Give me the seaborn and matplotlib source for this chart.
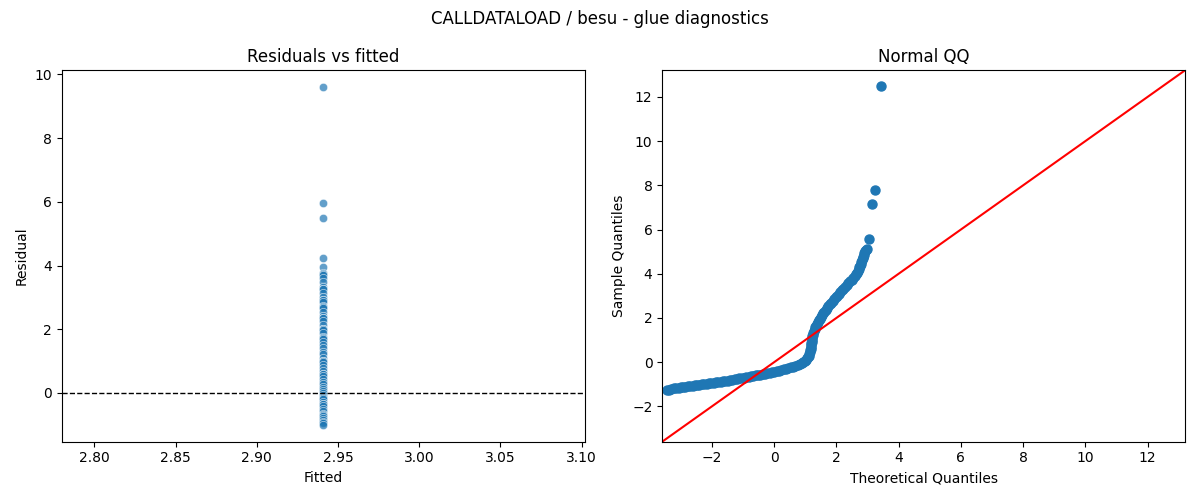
import matplotlib
matplotlib.use("Agg")
import matplotlib.pyplot as plt
import numpy as np
import pandas as pd
import seaborn as sns

# residuals from the intercept-only glue model (fitted value is constant)
fitted_value = 2.9405
residuals = [9.6, 5.97, 5.5, 4.25, 3.95, 3.78, 3.75, 3.72, 3.6, 3.48, 3.33, 3.27, 3.27,
             3.15, 3.0, 2.93, 2.93, 2.85, 2.72, 2.7, 2.66, 2.55, 2.42, 2.35, 2.35, 2.25,
             2.12, 2.0, 2.0, 1.98, 1.87, 1.75, 1.72, 1.7, 1.6, 1.5, 1.4, 1.3, 1.22, 1.1,
             1.0, 1.0, 0.97, 0.88, 0.78, 0.68, 0.6, 0.6, 0.52, 0.45, 0.36, 0.28, 0.2,
             0.12, 0.05, 0.0, -0.05, -0.12, -0.15, -0.2, -0.27, -0.35, -0.35, -0.42,
             -0.5, -0.58, -0.65, -0.7, -0.72, -0.78, -0.85, -0.9, -0.95, -1.0]

# normal QQ of standardised residuals
qq_theoretical = [-3.45, -3.38, -3.30, -3.22, -3.15, -3.07, -3.00, -2.92, -2.85, -2.77,
                  -2.70, -2.62, -2.55, -2.47, -2.40, -2.32, -2.25, -2.17, -2.10, -2.02,
                  -1.95, -1.87, -1.80, -1.72, -1.65, -1.57, -1.50, -1.42, -1.35, -1.27,
                  -1.20, -1.12, -1.05, -0.97, -0.90, -0.82, -0.75, -0.67, -0.60, -0.52,
                  -0.45, -0.37, -0.30, -0.22, -0.15, -0.07, 0.00, 0.08, 0.15, 0.23,
                  0.30, 0.38, 0.45, 0.53, 0.60, 0.68, 0.75, 0.82, 0.88, 0.94,
                  0.99, 1.03, 1.06, 1.09, 1.11, 1.13, 1.15, 1.16, 1.17, 1.18,
                  1.19, 1.19, 1.20, 1.21, 1.21, 1.22, 1.24, 1.26, 1.28, 1.30,
                  1.32, 1.35, 1.38, 1.41, 1.44, 1.47, 1.50, 1.54, 1.57, 1.61,
                  1.65, 1.69, 1.74, 1.78, 1.83, 1.88, 1.92, 1.97, 2.02, 2.07,
                  2.12, 2.17, 2.22, 2.27, 2.33, 2.38, 2.44, 2.49, 2.54, 2.59,
                  2.63, 2.67, 2.70, 2.72, 2.74, 2.76, 2.78, 2.80, 2.82, 2.84,
                  2.86, 2.88, 2.90, 2.92, 2.95, 2.98, 3.04, 3.14, 3.24, 3.44]
qq_sample = [-1.27, -1.24, -1.21, -1.19, -1.17, -1.16, -1.14, -1.12, -1.11, -1.09,
             -1.08, -1.06, -1.05, -1.03, -1.02, -1.00, -0.99, -0.97, -0.96, -0.94,
             -0.93, -0.91, -0.90, -0.88, -0.87, -0.85, -0.84, -0.82, -0.80, -0.78,
             -0.76, -0.74, -0.72, -0.70, -0.68, -0.66, -0.64, -0.62, -0.60, -0.58,
             -0.56, -0.54, -0.52, -0.49, -0.47, -0.45, -0.43, -0.40, -0.38, -0.35,
             -0.33, -0.30, -0.27, -0.24, -0.20, -0.16, -0.12, -0.08, -0.04, 0.01,
             0.06, 0.11, 0.17, 0.23, 0.30, 0.37, 0.45, 0.53, 0.61, 0.69,
             0.77, 0.85, 0.93, 1.01, 1.09, 1.17, 1.25, 1.33, 1.41, 1.49,
             1.57, 1.65, 1.73, 1.81, 1.89, 1.97, 2.05, 2.13, 2.21, 2.29,
             2.37, 2.45, 2.53, 2.61, 2.69, 2.77, 2.85, 2.93, 3.01, 3.09,
             3.17, 3.25, 3.33, 3.41, 3.49, 3.57, 3.65, 3.73, 3.81, 3.89,
             3.97, 4.05, 4.13, 4.21, 4.29, 4.37, 4.45, 4.53, 4.61, 4.69,
             4.77, 4.85, 4.93, 5.01, 5.09, 5.14, 5.56, 7.14, 7.77, 12.47]

qq_limits = [-3.6, 13.2]

resid_df = pd.DataFrame({"fitted": [fitted_value] * len(residuals), "residual": residuals})
qq_df = pd.DataFrame({"theoretical": qq_theoretical, "sample": qq_sample})

fig, (ax1, ax2) = plt.subplots(1, 2, figsize=(12, 5))

sns.scatterplot(data=resid_df, x="fitted", y="residual", alpha=0.7, ax=ax1)
ax1.axhline(0, color="black", linestyle="--", linewidth=1)
ax1.set_xlim(2.78, 3.102)
ax1.set_title("Residuals vs fitted")
ax1.set_xlabel("Fitted")
ax1.set_ylabel("Residual")

ax2.plot(qq_df["theoretical"], qq_df["sample"], marker="o", linestyle="none",
         color="#1f77b4", markersize=6.5)
ax2.plot(qq_limits, qq_limits, color="red")
ax2.set_xlim(qq_limits)
ax2.set_ylim(qq_limits)
ax2.set_title("Normal QQ")
ax2.set_xlabel("Theoretical Quantiles")
ax2.set_ylabel("Sample Quantiles")

fig.suptitle("CALLDATALOAD / besu - glue diagnostics")
plt.tight_layout()
plt.savefig("out.png", dpi=100)
